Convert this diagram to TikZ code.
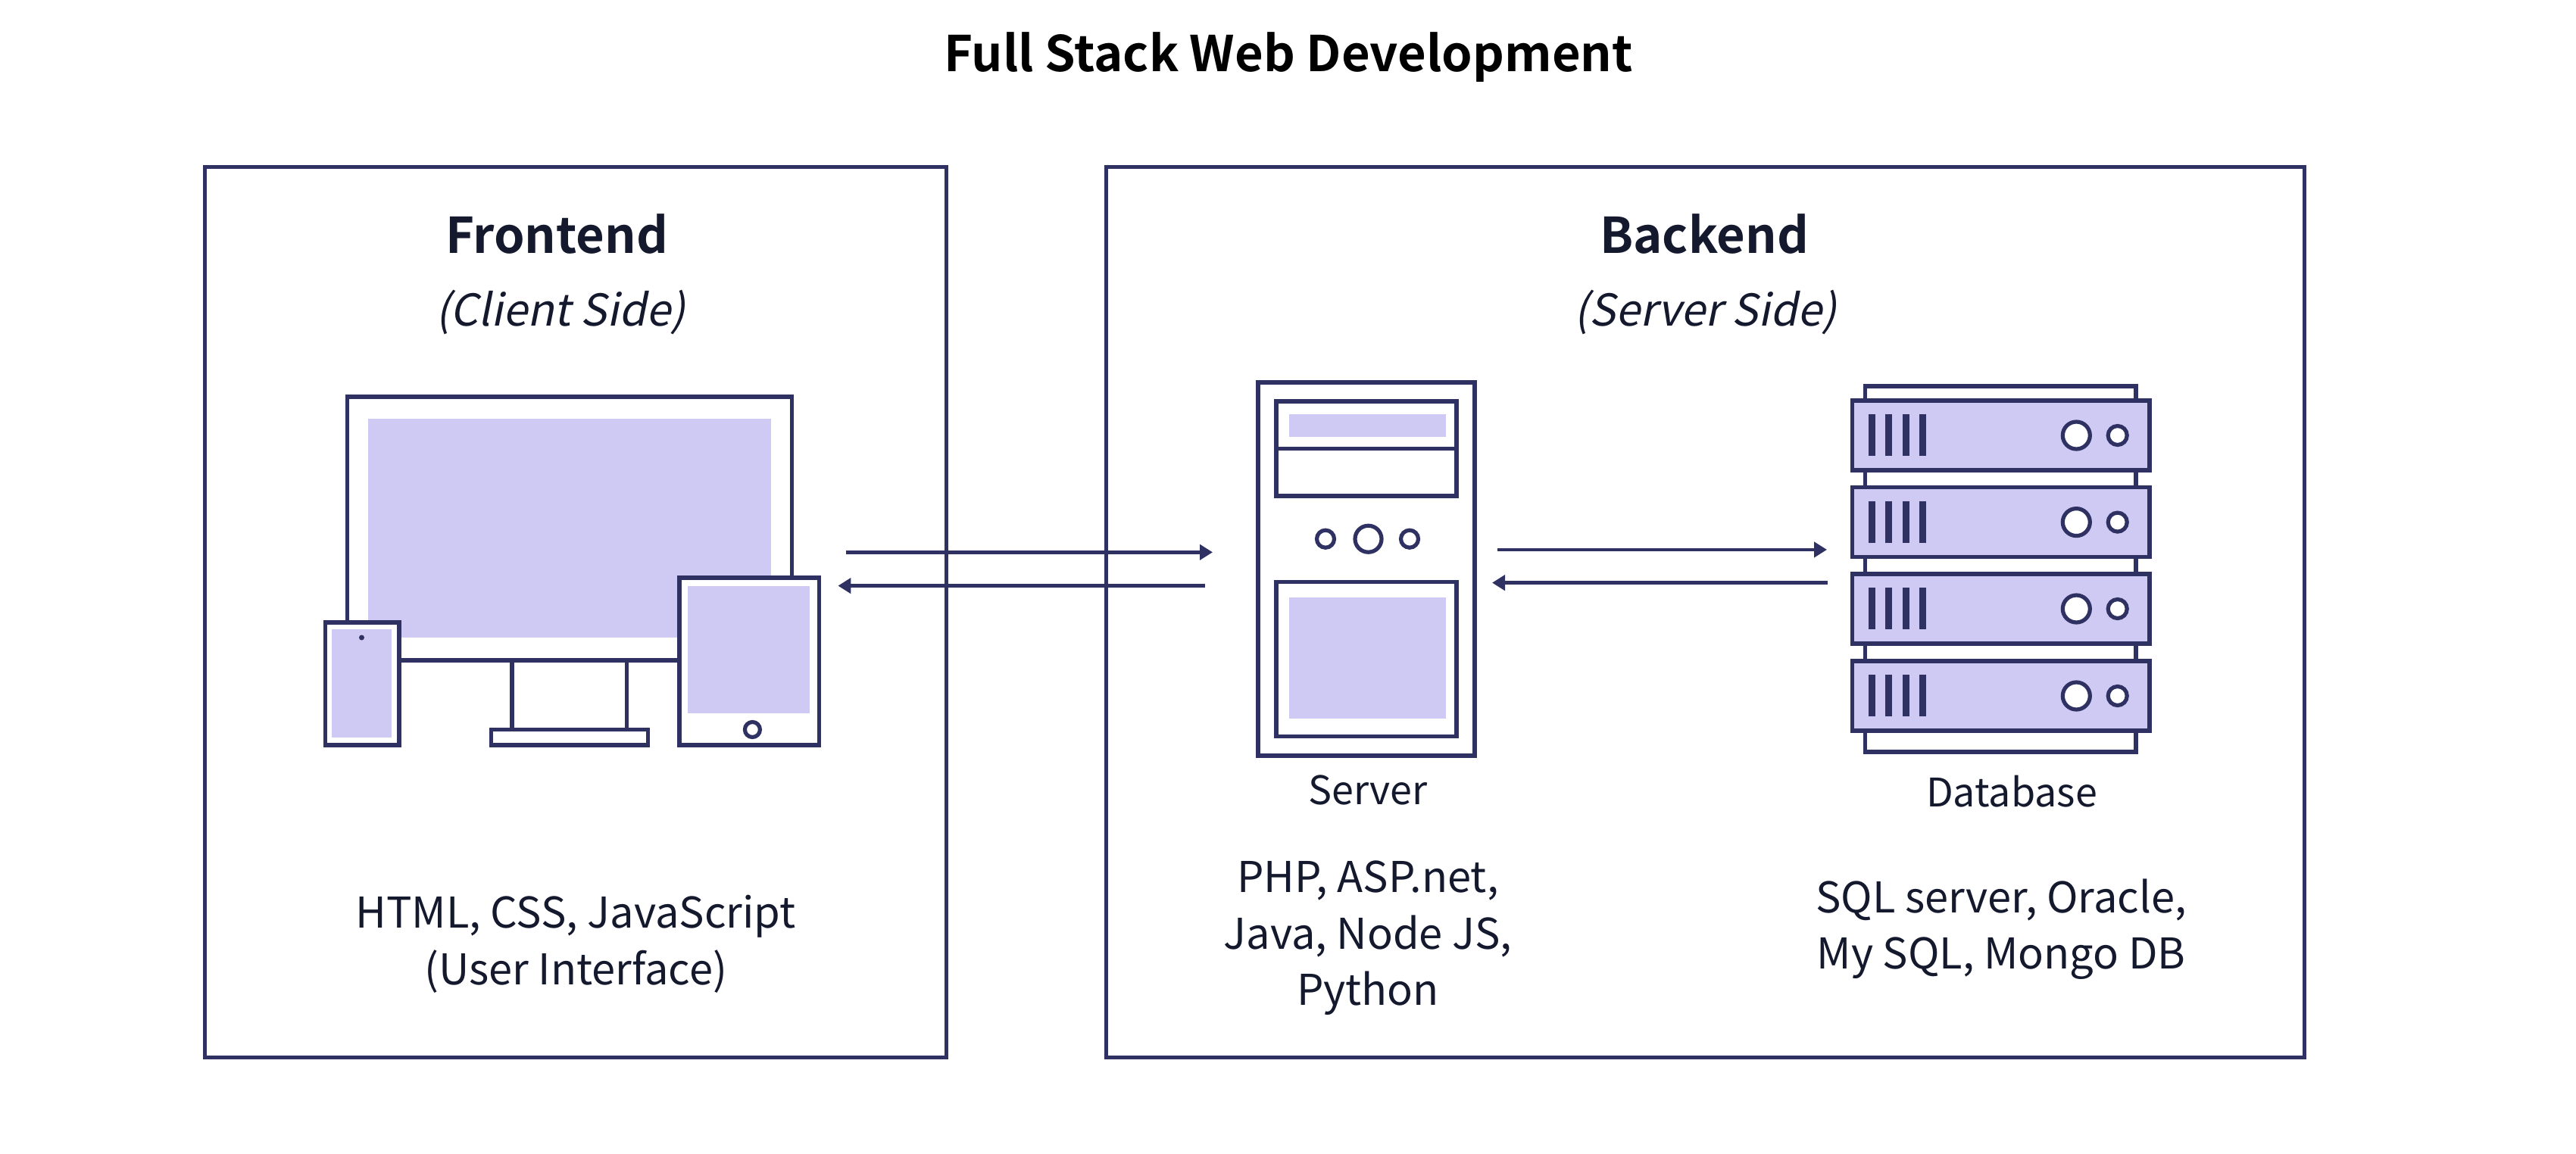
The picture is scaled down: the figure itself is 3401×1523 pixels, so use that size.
\documentclass[tikz,border=0pt]{standalone}
\usepackage{fontspec}
\setmainfont{Noto Sans CJK SC}[BoldFont={Noto Sans CJK SC Bold}]
\newfontfamily\itfont{Noto Sans CJK SC}[FakeSlant=0.2]
\usetikzlibrary{arrows.meta}
\definecolor{ink}{HTML}{2E3162}
\definecolor{lav}{HTML}{CFCAF3}
\definecolor{txt}{HTML}{14192E}
\tikzset{
  frame/.style={draw=ink,line width=5pt},
  fillbox/.style={fill=lav,draw=none},
  iconline/.style={draw=ink,line width=5.2pt,fill=white},
  slab/.style={draw=ink,line width=5.2pt,fill=lav},
  bar/.style={fill=ink,draw=none},
  conn/.style={draw=ink,line width=4.4pt,-{Triangle[length=17pt,width=20pt]}},
  head/.style={font=\fontsize{65}{72}\selectfont\bfseries,text=txt,inner sep=0pt,anchor=center},
  sub/.style={font=\fontsize{58}{65}\selectfont\itfont,text=txt,inner sep=0pt,anchor=center},
  lab/.style={font=\fontsize{52}{60}\selectfont,text=txt,inner sep=0pt,anchor=center},
  body/.style={font=\fontsize{56}{74.5}\selectfont,text=txt,inner sep=0pt,anchor=center,align=center},
}
\begin{document}
\begin{tikzpicture}[x=1pt,y=-1pt]
\useasboundingbox (0,0) rectangle (3401,1523);
\fill[white] (0,0) rectangle (3401,1523);
\node[head,text=black] (title) at (1701,76) {Full Stack Web Development};
% frames
\draw[frame] (270,220) rectangle (1249,1396);
\draw[frame] (1460,220) rectangle (3042,1396);
\node[head] (fe) at (735,309) {Frontend};
\node[sub] (fes) at (740,412) {(Client Side)};
\node[head] (be) at (2250,309) {Backend};
\node[sub] (bes) at (2252,412) {(Server Side)};
% monitor
\draw[iconline] (458.7,524) rectangle (1045.4,872);
\fill[fillbox] (486,553) rectangle (1018,842);
\draw[iconline] (676,872) -- (676,963.5) (827.6,872) -- (827.6,963.5);
\draw[iconline] (648.5,963.5) rectangle (855.6,984);
% phone
\draw[iconline] (429.6,822) rectangle (527,984);
\fill[fillbox] (438,830.5) rectangle (517,973.5);
\fill[ink] (477.5,842) circle (3.5);
% tablet
\draw[iconline] (897,763) rectangle (1081.6,984);
\fill[fillbox] (908,774) rectangle (1069,942);
\draw[iconline] (993.4,963.5) circle (10);
% server
\draw[iconline] (1661,505) rectangle (1947,998);
\draw[iconline] (1685,530) rectangle (1923,655);
\draw[iconline,fill=none] (1685,592.6) -- (1923,592.6);
\fill[fillbox] (1702,547) rectangle (1909,577);
\draw[iconline] (1750,711.7) circle (11.5);
\draw[iconline] (1806.5,711.7) circle (17.5);
\draw[iconline] (1861,711.7) circle (11.5);
\draw[iconline] (1685,768.6) rectangle (1923,972.8);
\fill[fillbox] (1702,789) rectangle (1909,949);
% database
\draw[iconline] (2462.7,510) rectangle (2820,993);
\foreach \t in {529,643.6,758,873}{
  \draw[slab] (2445.7,\t) rectangle (2838,\t+92);
  \foreach \bx in {2467,2489.3,2512,2534.3}{
    \fill[bar] (\bx,\t+18) rectangle (\bx+8.6,\t+73);
  }
  \draw[iconline] (2741.3,\t+46) circle (18);
  \draw[iconline] (2795.7,\t+46) circle (12.5);
}
% connectors
\coordinate (a1) at (1116.8,729.3);
\coordinate (a2) at (1601,729.3);
\coordinate (b1) at (1590.7,773.6);
\coordinate (b2) at (1106.4,773.6);
\coordinate (c1) at (1976.5,725.9);
\coordinate (c2) at (2412,725.9);
\coordinate (d1) at (2412.7,769.6);
\coordinate (d2) at (1970,769.6);
\draw[conn] (a1) -- (a2);
\draw[conn] (b1) -- (b2);
\draw[conn] (c1) -- (c2);
\draw[conn] (d1) -- (d2);
% labels
\node[lab] (srv) at (1806,1043) {Server};
\node[lab] (db) at (2656,1045) {Database};
\node[body] (fet) at (760,1247) {HTML, CSS, JavaScript\\(User Interface)};
\node[body] (st) at (1806,1239) {PHP, ASP.net,\\Java, Node JS,\\Python};
\node[body] (dbt) at (2642,1227) {SQL server, Oracle,\\My SQL, Mongo DB};
\end{tikzpicture}
\end{document}
